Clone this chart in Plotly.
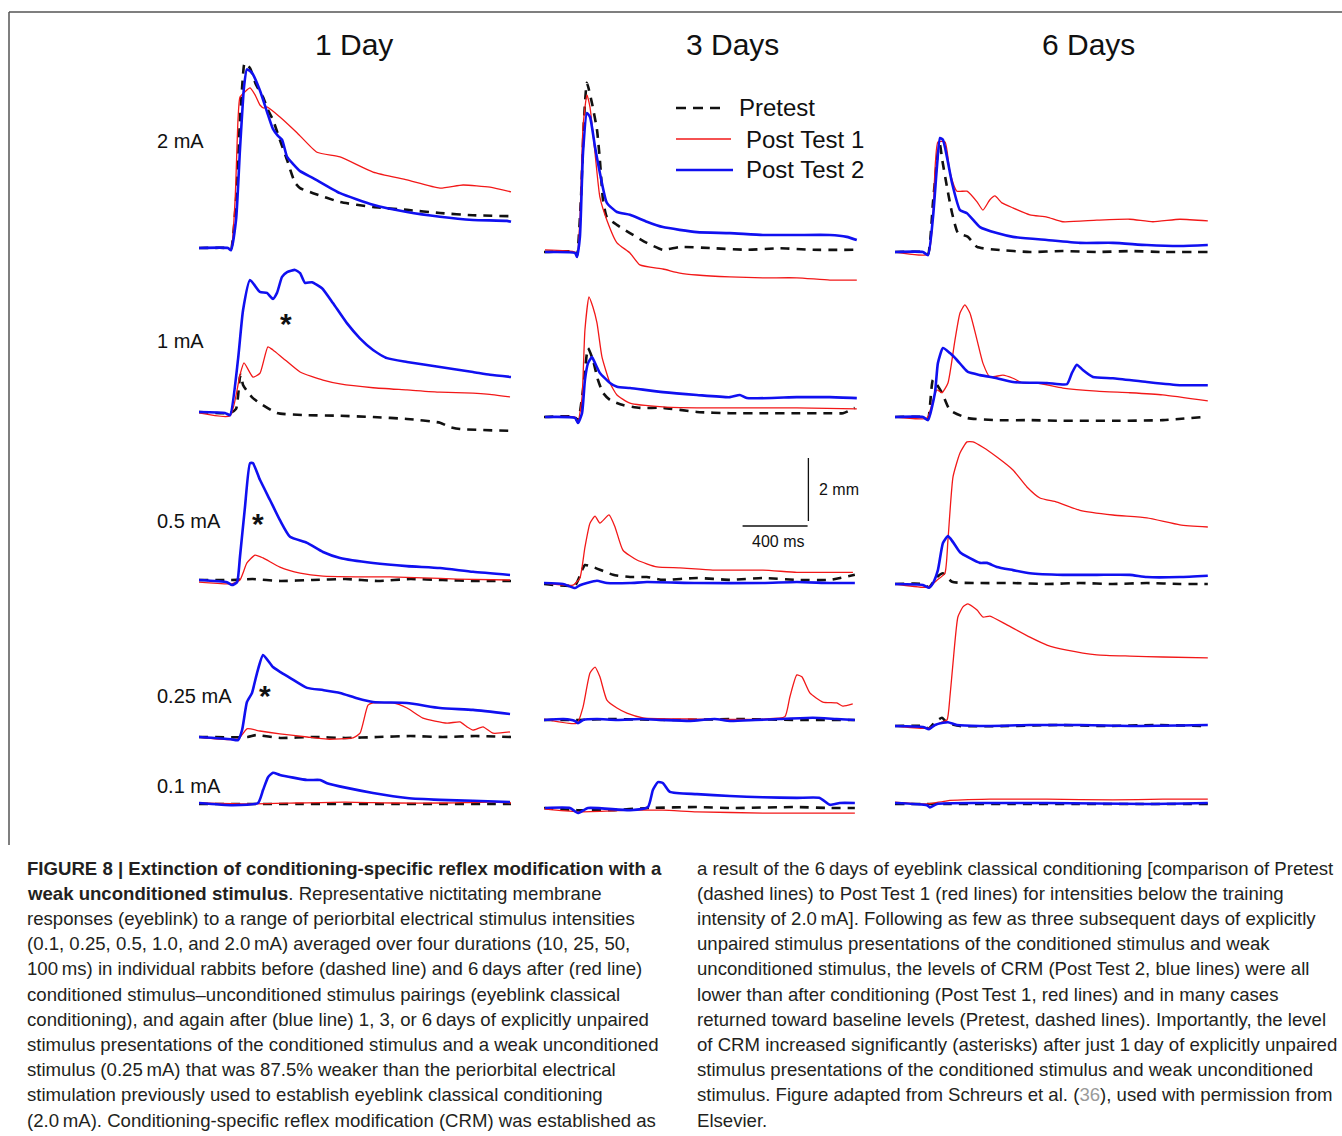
import plotly.graph_objects as go

# ---------------- data (time in ms, amplitude in mm) ----------------
COLUMNS = ["1 Day", "3 Days", "6 Days"]
ROWS = ["2 mA", "1 mA", "0.5 mA", "0.25 mA", "0.1 mA"]
LEGEND = ["Pretest", "Post Test 1", "Post Test 2"]

# ---- 1 Day ----
d1_2_pre_t = [0, 178, 197, 228, 252, 277, 283, 314, 351, 394, 425, 455, 498, 542, 591, 622, 702, 868, 1071, 1280, 1483, 1686, 1920]
d1_2_pre_v = [0, 0, -0.03, 1.52, 4.07, 5.81, 5.88, 5.71, 5.18, 4.79, 4.38, 4.07, 3.43, 2.79, 2.07, 1.9, 1.74, 1.46, 1.3, 1.21, 1.11, 1.04, 1.01]
d1_2_p1_t = [0, 178, 197, 222, 240, 252, 283, 314, 345, 375, 400, 418, 498, 603, 726, 868, 1071, 1280, 1483, 1625, 1791, 1920]
d1_2_p1_v = [0, 0, -0.03, 1.52, 4.07, 4.79, 4.96, 5.08, 4.86, 4.54, 4.44, 4.48, 4.16, 3.66, 3.04, 2.89, 2.41, 2.16, 1.9, 2.0, 1.93, 1.78]
d1_2_p2_t = [0, 178, 197, 228, 252, 277, 295, 326, 375, 418, 455, 486, 511, 542, 578, 622, 702, 868, 1071, 1280, 1483, 1686, 1895, 1920]
d1_2_p2_v = [0, 0, -0.07, 0.89, 3.11, 5.11, 5.67, 5.56, 5.0, 4.33, 3.78, 3.56, 3.44, 2.89, 2.67, 2.44, 2.22, 1.74, 1.37, 1.14, 0.99, 0.89, 0.86, 0.83]

d1_1_pre_t = [0, 191, 228, 252, 258, 271, 332, 480, 665, 868, 1071, 1280, 1483, 1545, 1606, 1920]
d1_1_pre_v = [0, -0.03, 0.1, 1.11, 1.18, 0.86, 0.44, -0.03, -0.1, -0.12, -0.16, -0.22, -0.34, -0.48, -0.54, -0.6]
d1_1_p1_t = [0, 191, 252, 277, 332, 375, 424, 455, 517, 622, 763, 868, 1071, 1280, 1483, 1686, 1772, 1914]
d1_1_p1_v = [-0.03, -0.12, 1.18, 1.56, 1.11, 1.23, 2.07, 1.97, 1.71, 1.27, 1.01, 0.89, 0.77, 0.7, 0.63, 0.6, 0.57, 0.48]
d1_1_p2_t = [0, 160, 191, 240, 271, 314, 375, 418, 455, 480, 511, 542, 591, 622, 652, 695, 757, 824, 910, 990, 1071, 1157, 1280, 1483, 1686, 1791, 1920]
d1_1_p2_v = [0, -0.03, -0.1, 1.66, 3.23, 4.19, 3.81, 3.78, 3.59, 3.78, 4.29, 4.44, 4.51, 4.41, 4.1, 4.12, 3.93, 3.46, 2.82, 2.34, 1.97, 1.71, 1.59, 1.43, 1.27, 1.18, 1.11]

d1_05_pre_t = [0, 200, 330, 500, 700, 900, 1100, 1300, 1500, 1700, 1920]
d1_05_pre_v = [0, 0, 0.03, -0.03, 0, 0.03, -0.03, 0.03, 0, -0.03, -0.03]
d1_05_p1_t = [0, 203, 252, 295, 345, 394, 498, 622, 763, 972, 1175, 1378, 1588, 1914]
d1_05_p1_v = [-0.07, -0.12, 0, 0.54, 0.79, 0.7, 0.41, 0.22, 0.12, 0.1, 0.1, 0.07, 0.03, 0]
d1_05_p2_t = [0, 172, 203, 234, 252, 283, 314, 332, 375, 437, 498, 560, 665, 763, 868, 1071, 1280, 1483, 1686, 1914]
d1_05_p2_v = [0, -0.07, -0.16, -0.07, 0.73, 2.32, 3.71, 3.71, 3.18, 2.54, 1.9, 1.37, 1.18, 0.89, 0.7, 0.54, 0.44, 0.38, 0.26, 0.16]

d1_025_pre_t = [0, 300, 350, 500, 700, 900, 1100, 1300, 1500, 1700, 1920]
d1_025_pre_v = [0, 0, 0.06, -0.03, 0, -0.03, 0, 0.03, 0, 0.03, 0]
d1_025_p1_t = [0, 240, 295, 375, 498, 665, 788, 948, 991, 1040, 1071, 1194, 1280, 1378, 1526, 1606, 1649, 1686, 1748, 1809, 1914]
d1_025_p1_v = [0, -0.07, 0.26, 0.19, 0.1, 0, -0.07, -0.03, 0.12, 1.01, 1.08, 1.08, 0.92, 0.6, 0.44, 0.48, 0.32, 0.22, 0.32, 0.12, 0.16]
d1_025_p2_t = [0, 197, 240, 265, 295, 326, 357, 394, 455, 498, 560, 665, 763, 868, 972, 1071, 1280, 1483, 1686, 1914]
d1_025_p2_v = [0, -0.07, -0.1, 0.22, 1.11, 1.4, 2.03, 2.6, 2.22, 2.07, 1.88, 1.56, 1.49, 1.4, 1.23, 1.11, 1.08, 0.92, 0.86, 0.73]

d1_01_pre_t = [0, 300, 600, 900, 1200, 1500, 1800, 1920]
d1_01_pre_v = [-0.03, -0.03, -0.03, -0.03, -0.03, -0.03, -0.03, -0.03]
d1_01_p1_t = [0, 300, 600, 900, 1200, 1500, 1800, 1920]
d1_01_p1_v = [0, -0.03, 0, 0.03, 0, 0, 0.03, 0]
d1_01_p2_t = [0, 209, 363, 394, 425, 455, 498, 665, 745, 788, 910, 1071, 1280, 1483, 1686, 1914]
d1_01_p2_v = [0, -0.07, 0, 0.41, 0.82, 0.96, 0.89, 0.73, 0.73, 0.63, 0.48, 0.32, 0.16, 0.1, 0.07, 0.03]

# ---- 3 Days ----
d3_2_pre_t = [0, 191, 203, 227, 246, 264, 295, 326, 344, 363, 387, 449, 529, 633, 732, 836, 1039, 1248, 1451, 1654, 1925]
d3_2_pre_v = [0, 0, -0.12, 1.66, 4.19, 5.37, 4.73, 3.88, 2.92, 1.66, 1.11, 0.86, 0.6, 0.29, 0.07, 0.16, 0.12, 0.07, 0.12, 0.07, 0.07]
d3_2_p1_t = [6, 191, 203, 221, 240, 264, 283, 314, 344, 387, 449, 529, 590, 732, 836, 941, 1144, 1347, 1556, 1759, 1925]
d3_2_p1_v = [0.07, 0, -0.16, 1.01, 3.97, 4.99, 4.6, 3.14, 1.74, 1.01, 0.29, -0.03, -0.41, -0.54, -0.67, -0.73, -0.79, -0.82, -0.82, -0.89, -0.89]
d3_2_p2_t = [6, 191, 203, 221, 240, 264, 283, 314, 344, 387, 449, 529, 633, 732, 941, 1144, 1347, 1556, 1759, 1863, 1925]
d3_2_p2_v = [0, -0.03, -0.16, 0.48, 3.14, 4.41, 4.29, 3.33, 2.51, 1.56, 1.27, 1.18, 0.96, 0.79, 0.63, 0.6, 0.54, 0.54, 0.54, 0.48, 0.38]

d3_1_pre_t = [0, 191, 209, 240, 271, 301, 332, 363, 406, 486, 590, 732, 941, 1144, 1347, 1556, 1759, 1840, 1913]
d3_1_pre_v = [0, 0, -0.16, 0.86, 2.19, 1.81, 1.18, 0.77, 0.54, 0.38, 0.29, 0.29, 0.16, 0.12, 0.12, 0.12, 0.12, 0.12, 0.29]
d3_1_p1_t = [6, 191, 209, 234, 252, 277, 301, 326, 357, 406, 449, 529, 732, 941, 1144, 1556, 1925]
d3_1_p1_v = [0, 0, -0.16, 0.63, 2.77, 3.81, 3.49, 2.99, 1.9, 1.08, 0.7, 0.44, 0.32, 0.29, 0.29, 0.29, 0.26]
d3_1_p2_t = [6, 191, 209, 234, 252, 271, 295, 314, 344, 406, 449, 529, 732, 941, 1144, 1205, 1248, 1556, 1759, 1925]
d3_1_p2_v = [0, -0.03, -0.19, 0.12, 1.18, 1.71, 1.9, 1.71, 1.4, 1.08, 0.96, 0.92, 0.79, 0.7, 0.63, 0.7, 0.6, 0.63, 0.63, 0.6]

d3_05_pre_t = [0, 191, 234, 252, 301, 425, 529, 633, 732, 941, 1144, 1347, 1556, 1759, 1913]
d3_05_pre_v = [-0.03, -0.07, 0.41, 0.57, 0.51, 0.26, 0.19, 0.19, 0.1, 0.16, 0.1, 0.16, 0.1, 0.1, 0.26]
d3_05_p1_t = [0, 178, 221, 252, 283, 314, 344, 400, 437, 486, 572, 695, 836, 1039, 1347, 1556, 1759, 1901]
d3_05_p1_v = [0, -0.07, 0.16, 1.14, 1.9, 2.12, 1.9, 2.16, 1.78, 1.04, 0.73, 0.51, 0.48, 0.41, 0.41, 0.34, 0.34, 0.34]
d3_05_p2_t = [0, 117, 191, 221, 264, 326, 387, 529, 633, 941, 1347, 1556, 1759, 1913]
d3_05_p2_v = [0, -0.03, -0.16, -0.07, 0, 0.07, 0, 0, 0.03, 0, 0, 0.03, 0, 0]

d3_025_pre_t = [0, 200, 400, 800, 1200, 1600, 1913]
d3_025_pre_v = [0, 0, 0.03, 0, 0.03, 0, 0]
d3_025_p1_t = [0, 203, 240, 283, 314, 344, 387, 449, 510, 609, 941, 1347, 1482, 1513, 1556, 1587, 1636, 1716, 1802, 1839, 1900]
d3_025_p1_v = [0.03, -0.1, 0.41, 1.49, 1.68, 1.37, 0.63, 0.38, 0.22, 0.07, 0.03, 0.03, 0.1, 0.73, 1.43, 1.37, 0.86, 0.57, 0.54, 0.44, 0.51]
d3_025_p2_t = [0, 120, 190, 209, 240, 326, 450, 600, 732, 900, 1050, 1144, 1300, 1450, 1654, 1800, 1913]
d3_025_p2_v = [0, 0.03, -0.03, -0.1, 0, 0.03, 0, 0.03, 0, -0.03, 0.03, -0.03, 0, 0.03, 0.07, 0.03, 0]

d3_01_pre_t = [0, 203, 400, 650, 941, 1144, 1556, 1759, 1913]
d3_01_pre_v = [0, -0.07, -0.07, 0, 0.03, 0, 0.03, 0, 0]
d3_01_p1_t = [0, 203, 529, 732, 941, 1347, 1913]
d3_01_p1_v = [-0.03, -0.12, -0.07, -0.07, -0.12, -0.16, -0.16]
d3_01_p2_t = [6, 160, 209, 271, 529, 640, 670, 701, 732, 775, 941, 1144, 1347, 1556, 1697, 1759, 1820, 1913]
d3_01_p2_v = [0, 0, -0.16, 0, -0.07, 0.03, 0.57, 0.82, 0.79, 0.51, 0.44, 0.38, 0.34, 0.32, 0.32, 0.1, 0.16, 0.16]

# ---- 6 Days ----
d6_2_pre_t = [0, 172, 203, 234, 265, 277, 289, 320, 351, 388, 449, 505, 627, 830, 1033, 1242, 1445, 1648, 1925]
d6_2_pre_v = [0, 0, -0.07, 1.59, 3.2, 3.4, 2.98, 2.06, 1.24, 0.6, 0.48, 0.16, 0.07, 0, 0.03, 0, 0.03, 0, 0]
d6_2_p1_t = [0, 203, 234, 264, 308, 338, 381, 443, 505, 541, 584, 615, 658, 726, 830, 935, 1033, 1242, 1445, 1587, 1753, 1925]
d6_2_p1_v = [0, -0.07, 1.23, 3.49, 3.49, 2.54, 1.93, 1.93, 1.59, 1.33, 1.66, 1.78, 1.56, 1.4, 1.18, 1.11, 0.96, 1.01, 1.04, 0.96, 1.04, 0.99]
d6_2_p2_t = [0, 172, 203, 234, 258, 277, 295, 320, 351, 400, 443, 523, 627, 726, 935, 1138, 1341, 1550, 1753, 1925]
d6_2_p2_v = [0, 0, -0.1, 1.11, 2.7, 3.62, 3.56, 3.01, 2.19, 1.33, 1.23, 0.79, 0.6, 0.48, 0.38, 0.29, 0.29, 0.22, 0.19, 0.22]

d6_1_pre_t = [0, 172, 203, 234, 289, 338, 443, 627, 830, 1033, 1341, 1648, 1895]
d6_1_pre_v = [0, 0, -0.07, 1.18, 0.77, 0.22, -0.03, -0.1, -0.1, -0.12, -0.12, -0.1, 0]
d6_1_p1_t = [0, 197, 234, 258, 289, 326, 369, 400, 430, 461, 505, 541, 584, 664, 726, 787, 873, 1033, 1242, 1445, 1648, 1925]
d6_1_p1_v = [0, -0.03, 0.54, 0.86, 0.77, 1.08, 2.44, 3.3, 3.56, 3.3, 2.44, 1.71, 1.27, 1.33, 1.23, 1.08, 1.08, 0.92, 0.82, 0.77, 0.7, 0.51]
d6_1_p2_t = [0, 172, 203, 246, 264, 295, 338, 381, 418, 449, 523, 627, 726, 935, 1058, 1089, 1119, 1156, 1218, 1341, 1550, 1753, 1925]
d6_1_p2_v = [0, 0, -0.1, 0.77, 1.71, 2.19, 2.03, 1.81, 1.59, 1.43, 1.33, 1.23, 1.11, 1.08, 1.04, 1.4, 1.66, 1.49, 1.27, 1.23, 1.11, 1.01, 1.01]

d6_05_pre_t = [0, 172, 209, 258, 295, 351, 523, 726, 935, 1138, 1341, 1550, 1753, 1925]
d6_05_pre_v = [0, 0, -0.1, 0.22, 0.34, 0.07, 0.03, 0.03, 0, 0.03, 0, 0.03, 0, 0]
d6_05_p1_t = [0, 203, 258, 307, 326, 357, 400, 443, 480, 541, 627, 726, 812, 892, 996, 1138, 1341, 1550, 1753, 1925]
d6_05_p1_v = [0, -0.1, 0.12, 0.34, 1.4, 3.4, 4.16, 4.51, 4.51, 4.34, 4.03, 3.62, 3.08, 2.73, 2.6, 2.34, 2.19, 2.1, 1.88, 1.81]
d6_05_p2_t = [0, 172, 209, 234, 264, 295, 326, 357, 400, 461, 523, 566, 627, 726, 830, 1033, 1242, 1445, 1550, 1753, 1925]
d6_05_p2_v = [0, -0.03, -0.12, 0.03, 0.44, 1.3, 1.52, 1.33, 1.01, 0.82, 0.67, 0.67, 0.54, 0.44, 0.34, 0.29, 0.29, 0.29, 0.22, 0.22, 0.26]

d6_025_pre_t = [0, 172, 209, 246, 289, 320, 400, 700, 1000, 1300, 1600, 1925]
d6_025_pre_v = [0, 0, -0.07, 0.12, 0.26, 0.1, 0, 0, 0.03, 0, 0.03, 0]
d6_025_p1_t = [0, 203, 277, 320, 338, 357, 387, 418, 449, 505, 541, 584, 689, 830, 935, 1058, 1242, 1445, 1648, 1925]
d6_025_p1_v = [0, -0.07, 0.1, 0.19, 0.92, 2.0, 3.46, 3.78, 3.88, 3.68, 3.46, 3.49, 3.21, 2.82, 2.57, 2.41, 2.26, 2.22, 2.19, 2.16]
d6_025_p2_t = [0, 172, 209, 246, 295, 326, 381, 523, 830, 1138, 1445, 1925]
d6_025_p2_v = [0, -0.03, -0.1, 0.03, 0.1, 0.12, 0.03, 0, 0.03, 0.03, 0, 0.03]

d6_01_pre_t = [0, 300, 700, 1100, 1500, 1925]
d6_01_pre_v = [-0.03, -0.03, -0.03, -0.03, -0.03, -0.03]
d6_01_p1_t = [0, 203, 320, 584, 935, 1341, 1648, 1925]
d6_01_p1_v = [0.03, -0.03, 0.07, 0.12, 0.12, 0.1, 0.12, 0.12]
d6_01_p2_t = [0, 197, 215, 258, 523, 935, 1550, 1925]
d6_01_p2_v = [0, -0.07, -0.14, -0.03, 0, 0, -0.03, 0]

# scale bar (400 ms, 2 mm)
SCALE_MS = 400
SCALE_MM = 2

PANELS = [
    [(d1_2_pre_t, d1_2_pre_v, d1_2_p1_t, d1_2_p1_v, d1_2_p2_t, d1_2_p2_v),
     (d3_2_pre_t, d3_2_pre_v, d3_2_p1_t, d3_2_p1_v, d3_2_p2_t, d3_2_p2_v),
     (d6_2_pre_t, d6_2_pre_v, d6_2_p1_t, d6_2_p1_v, d6_2_p2_t, d6_2_p2_v)],
    [(d1_1_pre_t, d1_1_pre_v, d1_1_p1_t, d1_1_p1_v, d1_1_p2_t, d1_1_p2_v),
     (d3_1_pre_t, d3_1_pre_v, d3_1_p1_t, d3_1_p1_v, d3_1_p2_t, d3_1_p2_v),
     (d6_1_pre_t, d6_1_pre_v, d6_1_p1_t, d6_1_p1_v, d6_1_p2_t, d6_1_p2_v)],
    [(d1_05_pre_t, d1_05_pre_v, d1_05_p1_t, d1_05_p1_v, d1_05_p2_t, d1_05_p2_v),
     (d3_05_pre_t, d3_05_pre_v, d3_05_p1_t, d3_05_p1_v, d3_05_p2_t, d3_05_p2_v),
     (d6_05_pre_t, d6_05_pre_v, d6_05_p1_t, d6_05_p1_v, d6_05_p2_t, d6_05_p2_v)],
    [(d1_025_pre_t, d1_025_pre_v, d1_025_p1_t, d1_025_p1_v, d1_025_p2_t, d1_025_p2_v),
     (d3_025_pre_t, d3_025_pre_v, d3_025_p1_t, d3_025_p1_v, d3_025_p2_t, d3_025_p2_v),
     (d6_025_pre_t, d6_025_pre_v, d6_025_p1_t, d6_025_p1_v, d6_025_p2_t, d6_025_p2_v)],
    [(d1_01_pre_t, d1_01_pre_v, d1_01_p1_t, d1_01_p1_v, d1_01_p2_t, d1_01_p2_v),
     (d3_01_pre_t, d3_01_pre_v, d3_01_p1_t, d3_01_p1_v, d3_01_p2_t, d3_01_p2_v),
     (d6_01_pre_t, d6_01_pre_v, d6_01_p1_t, d6_01_p1_v, d6_01_p2_t, d6_01_p2_v)],
]

CAPTION_LEFT = [
    "<b>FIGURE 8 | Extinction of conditioning-specific reflex modification with a</b>",
    "<b>weak unconditioned stimulus</b>. Representative nictitating membrane",
    "responses (eyeblink) to a range of periorbital electrical stimulus intensities",
    "(0.1, 0.25, 0.5, 1.0, and 2.0\u2009mA) averaged over four durations (10, 25, 50,",
    "100\u2009ms) in individual rabbits before (dashed line) and 6\u2009days after (red line)",
    "conditioned stimulus\u2013unconditioned stimulus pairings (eyeblink classical",
    "conditioning), and again after (blue line) 1, 3, or 6\u2009days of explicitly unpaired",
    "stimulus presentations of the conditioned stimulus and a weak unconditioned",
    "stimulus (0.25\u2009mA) that was 87.5% weaker than the periorbital electrical",
    "stimulation previously used to establish eyeblink classical conditioning",
    "(2.0\u2009mA). Conditioning-specific reflex modification (CRM) was established as",
]
CAPTION_RIGHT = [
    "a result of the 6\u2009days of eyeblink classical conditioning [comparison of Pretest",
    "(dashed lines) to Post\u2009Test 1 (red lines) for intensities below the training",
    "intensity of 2.0\u2009mA]. Following as few as three subsequent days of explicitly",
    "unpaired stimulus presentations of the conditioned stimulus and weak",
    "unconditioned stimulus, the levels of CRM (Post\u2009Test 2, blue lines) were all",
    "lower than after conditioning (Post\u2009Test 1, red lines) and in many cases",
    "returned toward baseline levels (Pretest, dashed lines). Importantly, the level",
    "of CRM increased significantly (asterisks) after just 1\u2009day of explicitly unpaired",
    "stimulus presentations of the conditioned stimulus and weak unconditioned",
    "stimulus. Figure adapted from Schreurs et al. (<span style='color:#9a9a9a'>36</span>), used with permission from",
    "Elsevier.",
]

# ---------------- layout geometry (pixels) ----------------
W, H = 1342, 1136
PX_PER_MS = 0.1625
PX_PER_MM = 31.5
COL_X0 = [199, 544, 895]
ROW_BASE = [[248, 252, 252], [412, 417, 417], [580, 583, 584], [737, 720, 726], [803, 808, 803]]
T_RANGE = [0, 2000]
V_RANGE = [-3, 7]

FONT = "Arial, Liberation Sans, Helvetica, sans-serif"
BLACK = "#111111"
RED = "#f21818"
BLUE = "#1010f0"


def px(x):
    return x / W


def py(y):
    return 1 - y / H


fig = go.Figure()
layout_axes = {}
k = 0
axis_ids = {}
for r in range(5):
    for c in range(3):
        k += 1
        sx = "" if k == 1 else str(k)
        axis_ids[(r, c)] = ("x" + sx, "y" + sx)
        x0 = COL_X0[c]
        x1 = x0 + (T_RANGE[1] - T_RANGE[0]) * PX_PER_MS
        base = ROW_BASE[r][c]
        ytop = base - V_RANGE[1] * PX_PER_MM
        ybot = base - V_RANGE[0] * PX_PER_MM
        layout_axes["xaxis" + sx] = dict(domain=[px(x0), px(x1)], range=T_RANGE, visible=False,
                                         anchor="y" + sx, fixedrange=True)
        layout_axes["yaxis" + sx] = dict(domain=[py(ybot), py(ytop)], range=V_RANGE, visible=False,
                                         anchor="x" + sx, fixedrange=True)
        pre_t, pre_v, p1_t, p1_v, p2_t, p2_v = PANELS[r][c]
        xa, ya = axis_ids[(r, c)]
        fig.add_trace(go.Scatter(x=pre_t, y=pre_v, mode="lines", xaxis=xa, yaxis=ya, name=LEGEND[0],
                                 line=dict(color=BLACK, width=2.6, dash="9px,7px", shape="spline",
                                           smoothing=0.5),
                                 showlegend=False, hoverinfo="skip"))
        fig.add_trace(go.Scatter(x=p1_t, y=p1_v, mode="lines", xaxis=xa, yaxis=ya, name=LEGEND[1],
                                 line=dict(color=RED, width=1.3, shape="spline", smoothing=0.5),
                                 showlegend=False, hoverinfo="skip"))
        fig.add_trace(go.Scatter(x=p2_t, y=p2_v, mode="lines", xaxis=xa, yaxis=ya, name=LEGEND[2],
                                 line=dict(color=BLUE, width=2.6, shape="spline", smoothing=0.5),
                                 showlegend=False, hoverinfo="skip"))

# scale bar drawn in the 3 Days / 0.5 mA panel axes
sxa, sya = axis_ids[(2, 1)]
SB_T0, SB_V0 = 1222, 1.81
fig.add_trace(go.Scatter(x=[SB_T0, SB_T0 + SCALE_MS], y=[SB_V0, SB_V0], mode="lines", xaxis=sxa, yaxis=sya,
                         line=dict(color=BLACK, width=1.3), showlegend=False, hoverinfo="skip"))
fig.add_trace(go.Scatter(x=[SB_T0 + SCALE_MS + 5] * 2, y=[SB_V0 + 0.16, SB_V0 + 0.16 + SCALE_MM], mode="lines",
                         xaxis=sxa, yaxis=sya, line=dict(color=BLACK, width=1.3), showlegend=False,
                         hoverinfo="skip"))

annotations = []
shapes = []

# scale bar labels
annotations.append(dict(x=SB_T0 + SCALE_MS + 60, y=SB_V0 + 0.16 + SCALE_MM / 2, xref=sxa, yref=sya,
                        text=f"{SCALE_MM} mm", showarrow=False, xanchor="left", yanchor="middle",
                        font=dict(family=FONT, size=16, color=BLACK)))
annotations.append(dict(x=SB_T0 + SCALE_MS / 2 + 20, y=SB_V0 - 0.5, xref=sxa, yref=sya,
                        text=f"{SCALE_MS} ms", showarrow=False, xanchor="center", yanchor="middle",
                        font=dict(family=FONT, size=16, color=BLACK)))

# column titles
for name, cx in zip(COLUMNS, [354, 732, 1088]):
    annotations.append(dict(x=px(cx), y=py(45), xref="paper", yref="paper", text=name, showarrow=False,
                            xanchor="center", yanchor="middle", font=dict(family=FONT, size=30, color=BLACK)))

# row labels
for name, ly in zip(ROWS, [141, 341, 521, 696, 786]):
    annotations.append(dict(x=px(155), y=py(ly), xref="paper", yref="paper", text=name, showarrow=False,
                            xanchor="left", yanchor="middle", font=dict(family=FONT, size=20, color=BLACK)))

# asterisks
for ax_, ay_ in [(286, 324), (258, 523), (265, 695)]:
    annotations.append(dict(x=px(ax_), y=py(ay_), xref="paper", yref="paper", text="<b>*</b>", showarrow=False,
                            xanchor="center", yanchor="middle", font=dict(family=FONT, size=30, color=BLACK)))

# legend (drawn manually)
shapes.append(dict(type="line", xref="paper", yref="paper", x0=px(676), x1=px(720), y0=py(108), y1=py(108),
                   line=dict(color=BLACK, width=2.6, dash="10px,7px")))
shapes.append(dict(type="line", xref="paper", yref="paper", x0=px(676), x1=px(731), y0=py(139), y1=py(139),
                   line=dict(color=RED, width=1.3)))
shapes.append(dict(type="line", xref="paper", yref="paper", x0=px(676), x1=px(733), y0=py(170), y1=py(170),
                   line=dict(color=BLUE, width=2.6)))
for name, lx, ly in zip(LEGEND, [737, 744, 744], [108, 139, 170]):
    annotations.append(dict(x=px(lx), y=py(ly), xref="paper", yref="paper", text=name, showarrow=False,
                            xanchor="left", yanchor="middle", font=dict(family=FONT, size=24, color=BLACK)))

# frame
shapes.append(dict(type="line", xref="paper", yref="paper", x0=px(9), x1=px(W), y0=py(12), y1=py(12),
                   line=dict(color="#555555", width=1.5)))
shapes.append(dict(type="line", xref="paper", yref="paper", x0=px(9), x1=px(9), y0=py(12), y1=py(845),
                   line=dict(color="#555555", width=1.5)))

# caption
CAP_FONT = dict(family=FONT, size=18.6, color="#231f20")
for i, line in enumerate(CAPTION_LEFT):
    annotations.append(dict(x=px(25), y=py(868 + 25.2 * i), xref="paper", yref="paper", text=line,
                            showarrow=False, xanchor="left", yanchor="middle", font=CAP_FONT))
for i, line in enumerate(CAPTION_RIGHT):
    annotations.append(dict(x=px(695), y=py(868 + 25.2 * i), xref="paper", yref="paper", text=line,
                            showarrow=False, xanchor="left", yanchor="middle", font=CAP_FONT))

fig.update_layout(
    width=W, height=H, margin=dict(l=0, r=0, t=0, b=0),
    paper_bgcolor="white", plot_bgcolor="rgba(0,0,0,0)",
    showlegend=False, annotations=annotations, shapes=shapes,
    **layout_axes,
)

fig.write_html("out.html", config={"displayModeBar": False},
               post_script="document.body.style.margin='0';document.body.style.overflow='hidden';")
